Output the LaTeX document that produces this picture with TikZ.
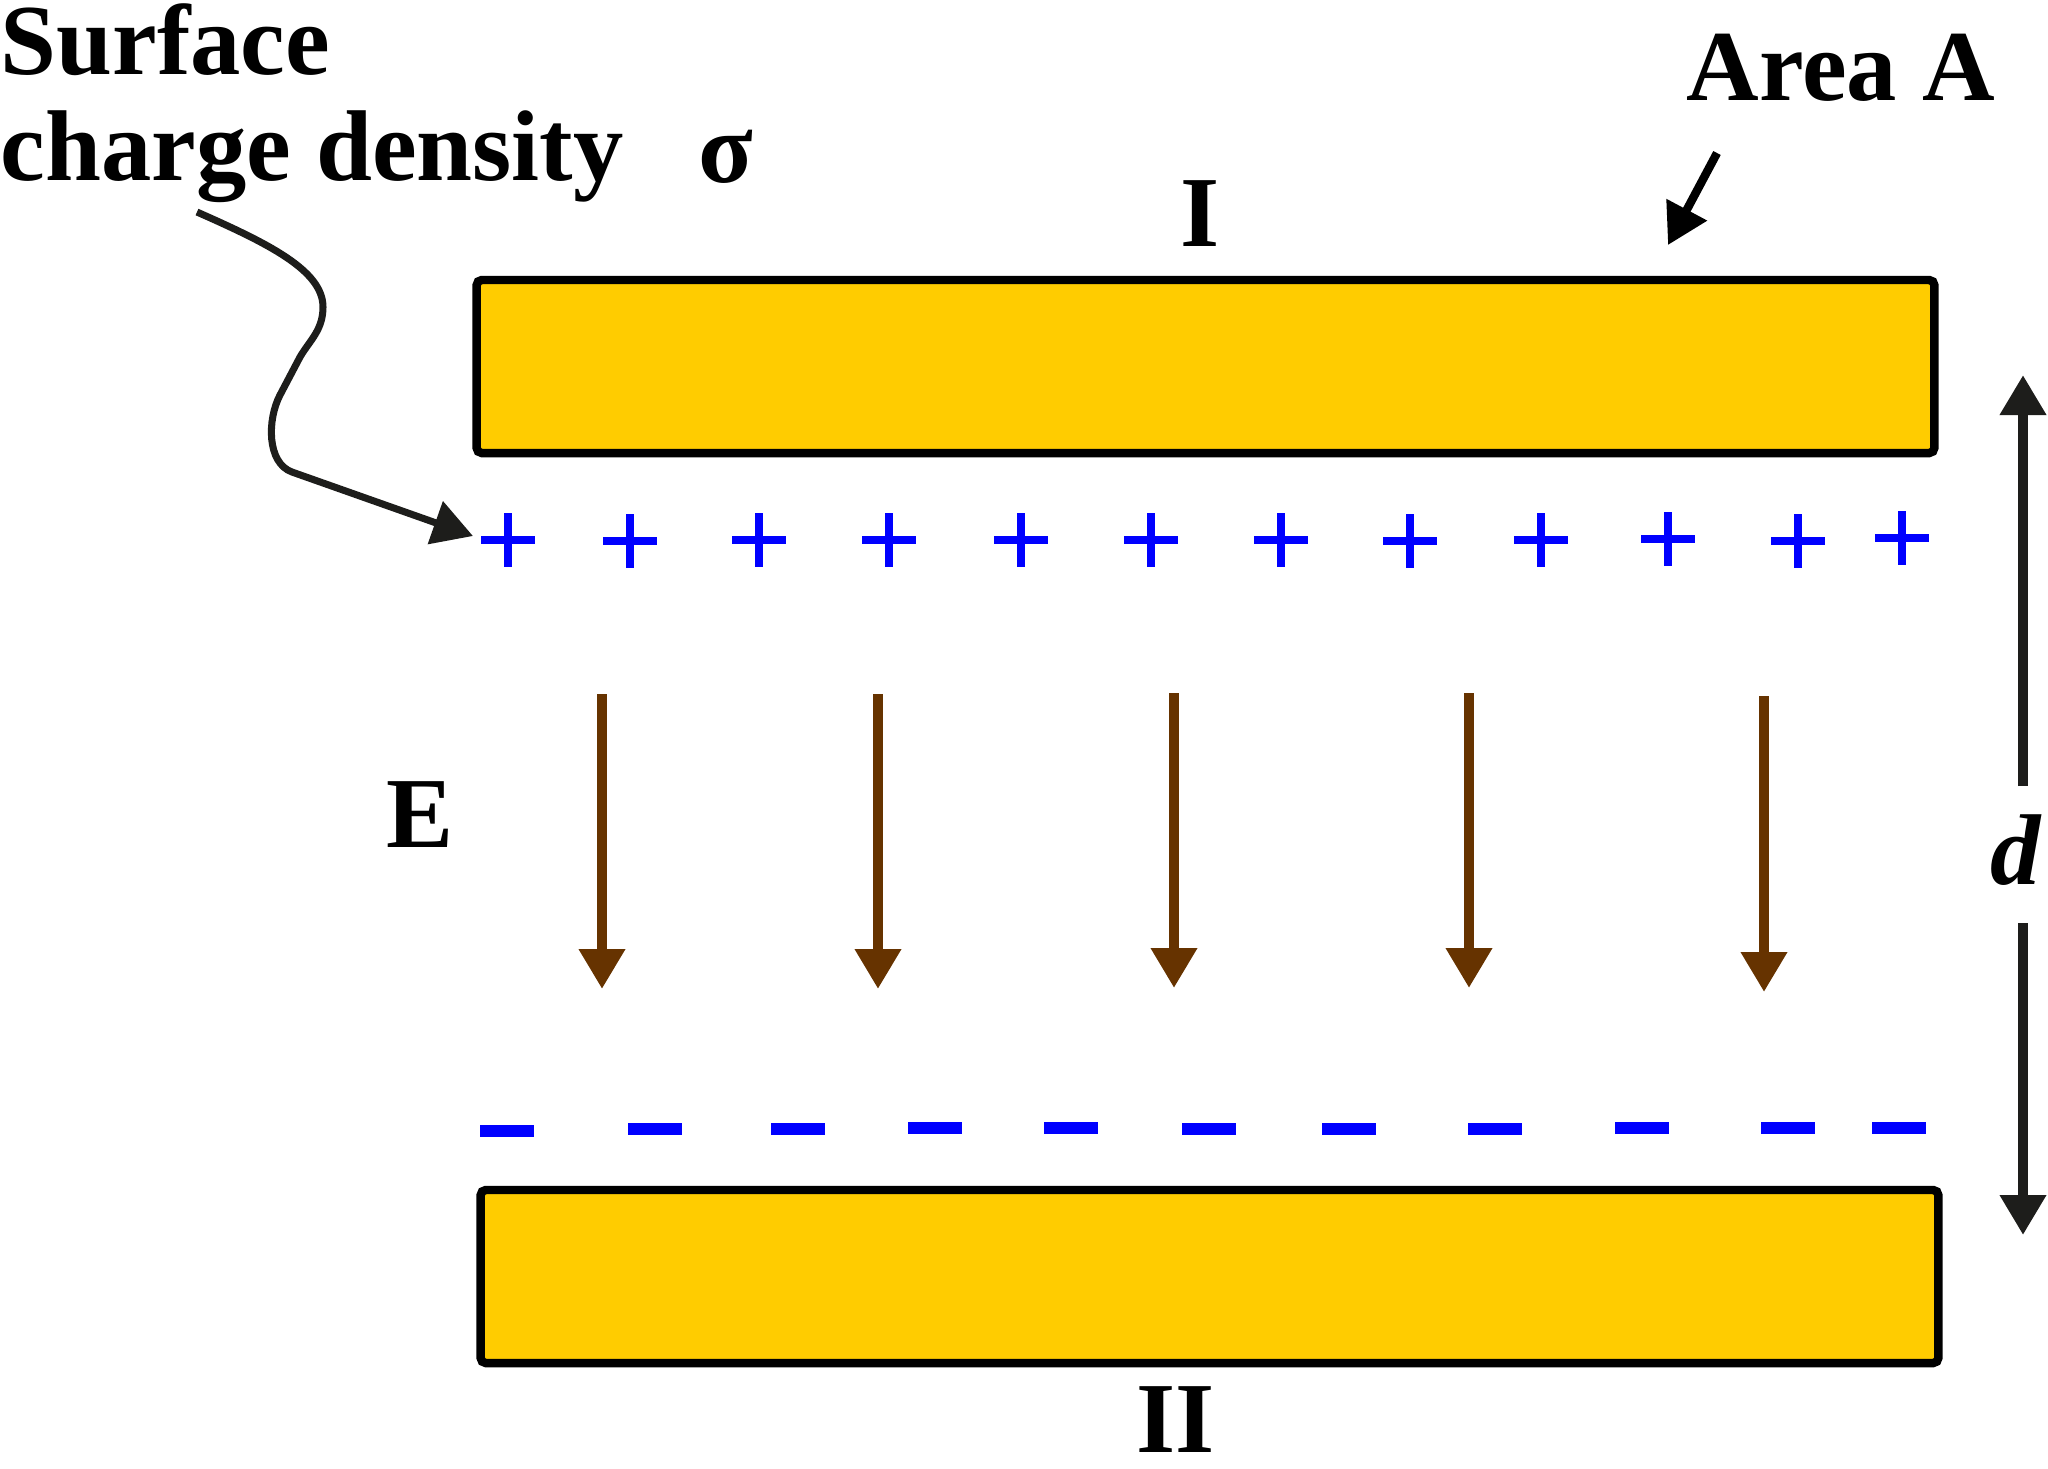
\documentclass[tikz,border=0pt]{standalone}
\usepackage{fontspec}
\setmainfont{Liberation Serif}
\usetikzlibrary{arrows.meta}
\definecolor{plategold}{HTML}{FFCC00}
\definecolor{fieldbrown}{HTML}{663300}
\definecolor{inkblack}{HTML}{1D1D1B}
\definecolor{chargeblue}{HTML}{0000FF}

\begin{document}
\begin{tikzpicture}[x=0.01cm,y=-0.01cm,
  plate/.style={draw=black,line width=2.4pt,fill=plategold,rounded corners=1.5pt,
    minimum width=14.57cm,minimum height=1.73cm,inner sep=0pt},
  lbl/.style={inner sep=0pt,font=\fontsize{28.6}{34}\selectfont\bfseries},
  bigtip/.style={-{Triangle[width=0.44cm,length=0.40cm]}},
  efield/.style={bigtip,draw=fieldbrown,line width=3pt},
  gap/.style={bigtip,draw=inkblack,line width=3pt},
  plussign/.style={draw=chargeblue,line width=2.4pt},
  minussign/.style={draw=chargeblue,line width=3.4pt}]
  \useasboundingbox (0,0) rectangle (2048,1468);

  \node[plate] (plateI) at (1205.5,366.5) {};
  \node[plate] (plateII) at (1209.5,1276.5) {};
  \node[lbl,anchor=base] (labI) at (1200,246) {I};
  \node[lbl,anchor=base] (labII) at (1176,1452) {II};

  \node[lbl,anchor=base west] (surf) at (0,74) {Surface};
  \node[lbl,anchor=base west] (dens) at (0,180) {charge density};
  \node[lbl,anchor=base west] (sigma) at (698,182) {σ};
  \node[lbl,anchor=base west] (area) at (1686,100) {Area A};
  \node[lbl,anchor=base west] (efld) at (386,847) {E};
  \node[lbl,anchor=base west] (dlab) at (1990,884) {\itshape d};

  \coordinate (densend) at (197,212);
  \coordinate (plustip) at (473,536);
  \draw[bigtip,draw=inkblack,line width=2pt] (densend)
    .. controls (267,243) and (323,270) .. (323,307)
    .. controls (323,330) and (310,340) .. (300,357) -- (280,395)
    .. controls (267,420) and (267,463) .. (292,472) -- (plustip);

  \coordinate (areastart) at (1717,153);
  \coordinate (areatip) at (1668,245);
  \draw[bigtip,draw=black,line width=2.4pt] (areastart) -- (areatip);

  \foreach \x/\y in {508/540,630/541,759/540,889/540,1021/540,1151/540,
                     1281/540,1410/541,1541/540,1668/539,1798/541,1902/538}
    \draw[plussign] ({\x-27},\y) -- ({\x+27},\y) (\x,{\y-27}) -- (\x,{\y+27});

  \foreach \x/\y in {507/1131,655/1129,798/1129,935/1128,1071/1128,1209/1129,
                     1349/1129,1495/1129,1642/1128,1788/1128,1899/1128}
    \draw[minussign] ({\x-27},\y) -- ({\x+27},\y);

  \foreach \i/\x/\ya/\yb in {1/602/694/989,2/878/694/989,3/1174/693/988,
                             4/1469/693/988,5/1764/696/992} {
    \coordinate (e\i top) at (\x,\ya);
    \coordinate (e\i tip) at (\x,\yb);
    \draw[efield] (e\i top) -- (e\i tip);
  }

  \coordinate (dupfoot) at (2023,786);
  \coordinate (duptip) at (2023,375);
  \coordinate (dlowfoot) at (2023,923);
  \coordinate (dlowtip) at (2023,1235);
  \draw[gap] (dupfoot) -- (duptip);
  \draw[gap] (dlowfoot) -- (dlowtip);
\end{tikzpicture}
\end{document}
